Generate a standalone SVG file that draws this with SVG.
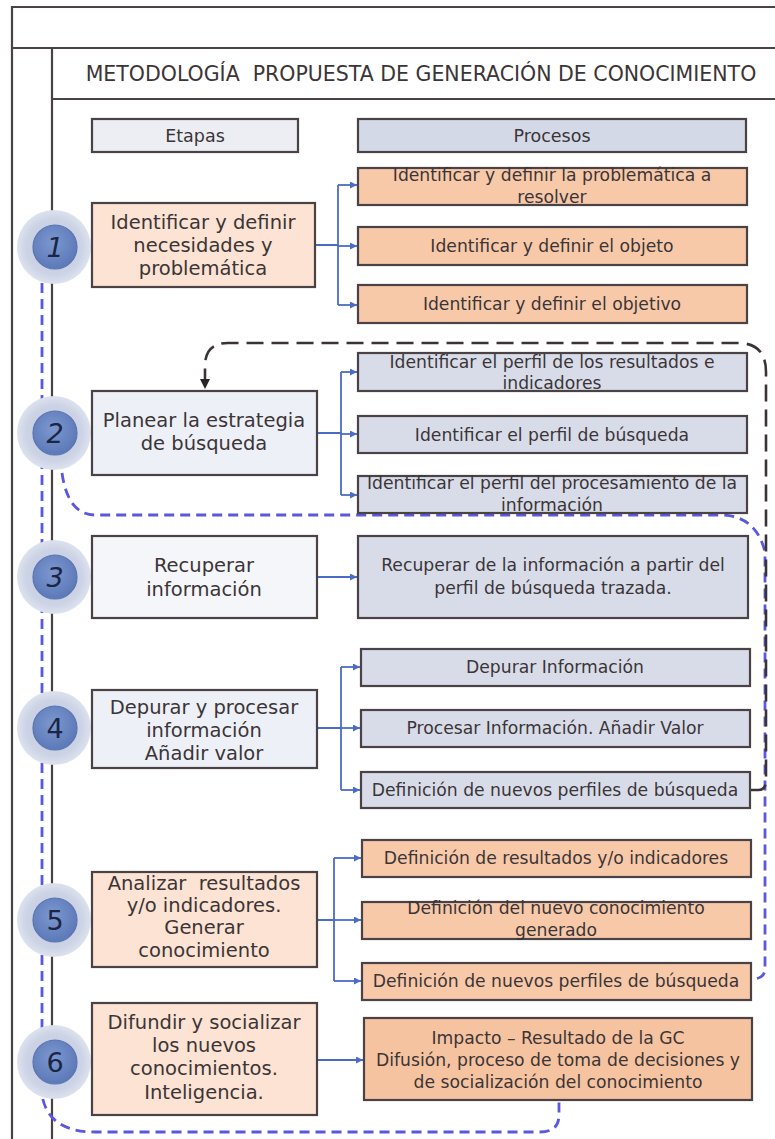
<svg xmlns="http://www.w3.org/2000/svg" width="775" height="1139" viewBox="0 0 775 1139">
<defs>
<style>
.frame{stroke:#4a4245;stroke-width:2.2;fill:none}
.box{stroke:#4a4245;stroke-width:2.2}
.peach{fill:#fce3d3}
.orange{fill:#f8c9a9}
.orange6{fill:#f6c3a0}
.light{fill:#eef0f7}
.white{fill:#f5f6fa}
.grey{fill:#d8dce9}
.hdrA{fill:#eceef4}
.hdrB{fill:#d4d9e7}
.t{font-family:"DejaVu Sans","Liberation Sans",sans-serif;fill:#3b3537;text-anchor:middle}
.et{font-size:19.5px}
.pr{font-size:17.2px}
.num{font-family:"DejaVu Sans","Liberation Sans",sans-serif;font-size:27px;fill:#1b2544;text-anchor:middle}
.conn{stroke:#4a6cc8;stroke-width:1.8;fill:none}
.bdash{stroke:#5a57e0;stroke-width:2.8;fill:none;stroke-dasharray:10 6}
.kdash{stroke:#3a3336;stroke-width:2.6;fill:none;stroke-dasharray:17 8}
.halo{fill:url(#haloG)}
.core{fill:url(#coreG);stroke:#5a74b0;stroke-width:1.2}
</style>
<radialGradient id="haloG" cx="0.5" cy="0.5" r="0.5">
<stop offset="0" stop-color="#bfc8df"/>
<stop offset="0.75" stop-color="#ccd3e5"/>
<stop offset="1" stop-color="#dde2ee"/>
</radialGradient>
<radialGradient id="coreG" cx="0.45" cy="0.4" r="0.6">
<stop offset="0" stop-color="#7d98d0"/>
<stop offset="1" stop-color="#5c79b8"/>
</radialGradient>
<marker id="arr" markerUnits="userSpaceOnUse" markerWidth="8" markerHeight="8" refX="7" refY="3.5" orient="auto">
<path d="M0,0 L7,3.5 L0,7 z" fill="#4a6cc8"/>
</marker>
<marker id="arrK" markerUnits="userSpaceOnUse" markerWidth="12" markerHeight="12" refX="10" refY="5" orient="auto">
<path d="M0,0 L10,5 L0,10 z" fill="#2a2426"/>
</marker>
</defs>
<rect width="775" height="1139" fill="#ffffff"/>
<g id="frame">
<path class="frame" d="M775 7 H12 V1139"/>
<path class="frame" d="M12 48 H775"/>
<path class="frame" d="M52 48 V1139"/>
<path class="frame" d="M52 99 H775"/>
<text class="t" x="421" y="81" font-size="20.5" fill="#4a4446" xml:space="preserve">METODOLOGÍA  PROPUESTA DE GENERACIÓN DE CONOCIMIENTO</text>
</g>
<g id="connectors">
<path class="bdash" d="M42 283 V1095 Q48 1132 95 1132 H540 Q559 1132 559 1115 V1100"/>
<path class="bdash" d="M62 473 Q68 515 95 515 H720 Q756 515 765 552 V968 Q765 979 752 979"/>
<path class="kdash" d="M751 790 H758 Q766 790 766 780 V372 Q766 343 738 343 H228 Q205 343 205 366 V389" marker-end="url(#arrK)"/>
<path class="conn" d="M315 245 H338 M338 185 V305"/>
<path class="conn" d="M338 185 H357" marker-end="url(#arr)"/>
<path class="conn" d="M338 246 H357" marker-end="url(#arr)"/>
<path class="conn" d="M338 305 H357" marker-end="url(#arr)"/>
<path class="conn" d="M317 433 H341 M341 372 V495"/>
<path class="conn" d="M341 372 H357" marker-end="url(#arr)"/>
<path class="conn" d="M341 434 H357" marker-end="url(#arr)"/>
<path class="conn" d="M341 495 H357" marker-end="url(#arr)"/>
<path class="conn" d="M317 577 H357" marker-end="url(#arr)"/>
<path class="conn" d="M317 728 H341 M341 667 V790"/>
<path class="conn" d="M341 667 H360" marker-end="url(#arr)"/>
<path class="conn" d="M341 728 H360" marker-end="url(#arr)"/>
<path class="conn" d="M341 790 H360" marker-end="url(#arr)"/>
<path class="conn" d="M317 920 H334 M334 858 V981"/>
<path class="conn" d="M334 858 H361" marker-end="url(#arr)"/>
<path class="conn" d="M334 920 H361" marker-end="url(#arr)"/>
<path class="conn" d="M334 981 H361" marker-end="url(#arr)"/>
<path class="conn" d="M317 1060 H363" marker-end="url(#arr)"/>
</g>
<g id="header-etapas">
<rect class="box hdrA" x="92" y="119" width="206" height="33"/>
<text class="t" x="195" y="142" font-size="17.5">Etapas</text>
</g>
<g id="header-procesos">
<rect class="box hdrB" x="358" y="119" width="388" height="33"/>
<text class="t" x="552" y="142" font-size="17.5">Procesos</text>
</g>
<g id="circle-1"><circle class="halo" cx="54" cy="247" r="37"/><circle class="core" cx="55" cy="247" r="22"/><text class="num" x="55" y="257" font-style="italic">1</text></g>
<g id="circle-2"><circle class="halo" cx="54" cy="433" r="37"/><circle class="core" cx="55" cy="433" r="22"/><text class="num" x="55" y="443" font-style="italic">2</text></g>
<g id="circle-3"><circle class="halo" cx="54" cy="577" r="37"/><circle class="core" cx="55" cy="577" r="22"/><text class="num" x="55" y="587" font-style="italic">3</text></g>
<g id="circle-4"><circle class="halo" cx="54" cy="728" r="37"/><circle class="core" cx="55" cy="728" r="22"/><text class="num" x="55" y="738">4</text></g>
<g id="circle-5"><circle class="halo" cx="54" cy="920" r="37"/><circle class="core" cx="55" cy="920" r="22"/><text class="num" x="55" y="930">5</text></g>
<g id="circle-6"><circle class="halo" cx="54" cy="1062" r="37"/><circle class="core" cx="55" cy="1062" r="22"/><text class="num" x="55" y="1072">6</text></g>
<g id="stage-1">
<rect class="box peach" x="92" y="203" width="223" height="84"/>
<text class="t et" x="203" y="229">Identificar y definir</text>
<text class="t et" x="203" y="252">necesidades y</text>
<text class="t et" x="203" y="275">problemática</text>
</g>
<g id="proc-1a">
<rect class="box orange" x="358" y="168" width="389" height="37"/>
<text class="t pr" x="552" y="181">Identificar y definir la problemática a</text>
<text class="t pr" x="552" y="203">resolver</text>
</g>
<g id="proc-1b">
<rect class="box orange" x="358" y="227" width="389" height="38"/>
<text class="t pr" x="552" y="252">Identificar y definir el objeto</text>
</g>
<g id="proc-1c">
<rect class="box orange" x="358" y="285" width="389" height="38"/>
<text class="t pr" x="552" y="310">Identificar y definir el objetivo</text>
</g>
<g id="stage-2">
<rect class="box light" x="92" y="391" width="225" height="84"/>
<text class="t et" x="204" y="427">Planear la estrategia</text>
<text class="t et" x="204" y="450">de búsqueda</text>
</g>
<g id="proc-2a">
<rect class="box grey" x="358" y="353" width="389" height="38"/>
<text class="t pr" x="552" y="368">Identificar el perfil de los resultados e</text>
<text class="t pr" x="552" y="389">indicadores</text>
</g>
<g id="proc-2b">
<rect class="box grey" x="358" y="416" width="389" height="37"/>
<text class="t pr" x="552" y="441">Identificar el perfil de búsqueda</text>
</g>
<g id="proc-2c">
<rect class="box grey" x="358" y="476" width="389" height="37"/>
<text class="t pr" x="552" y="489">Identificar el perfil del procesamiento de la</text>
<text class="t pr" x="552" y="511">información</text>
</g>
<g id="stage-3">
<rect class="box white" x="92" y="536" width="225" height="82"/>
<text class="t et" x="204" y="572">Recuperar</text>
<text class="t et" x="204" y="596">información</text>
</g>
<g id="proc-3">
<rect class="box grey" x="358" y="536" width="390" height="82"/>
<text class="t pr" x="553" y="571">Recuperar de la información a partir del</text>
<text class="t pr" x="553" y="594">perfil de búsqueda trazada.</text>
</g>
<g id="stage-4">
<rect class="box light" x="92" y="690" width="225" height="78"/>
<text class="t et" x="204" y="714">Depurar y procesar</text>
<text class="t et" x="204" y="737">información</text>
<text class="t et" x="204" y="760">Añadir valor</text>
</g>
<g id="proc-4a">
<rect class="box grey" x="361" y="649" width="389" height="37"/>
<text class="t pr" x="555" y="673">Depurar Información</text>
</g>
<g id="proc-4b">
<rect class="box grey" x="361" y="710" width="389" height="37"/>
<text class="t pr" x="555" y="734">Procesar Información. Añadir Valor</text>
</g>
<g id="proc-4c">
<rect class="box grey" x="361" y="772" width="389" height="36"/>
<text class="t pr" x="555" y="796">Definición de nuevos perfiles de búsqueda</text>
</g>
<g id="stage-5">
<rect class="box peach" x="92" y="872" width="225" height="95"/>
<text class="t et" x="204" y="890" xml:space="preserve">Analizar  resultados</text>
<text class="t et" x="204" y="912">y/o indicadores.</text>
<text class="t et" x="204" y="934">Generar</text>
<text class="t et" x="204" y="957">conocimiento</text>
</g>
<g id="proc-5a">
<rect class="box orange" x="362" y="840" width="389" height="37"/>
<text class="t pr" x="556" y="864">Definición de resultados y/o indicadores</text>
</g>
<g id="proc-5b">
<rect class="box orange" x="362" y="902" width="389" height="37"/>
<text class="t pr" x="556" y="914">Definición del nuevo conocimiento</text>
<text class="t pr" x="556" y="936">generado</text>
</g>
<g id="proc-5c">
<rect class="box orange" x="362" y="963" width="389" height="37"/>
<text class="t pr" x="556" y="987">Definición de nuevos perfiles de búsqueda</text>
</g>
<g id="stage-6">
<rect class="box peach" x="92" y="1003" width="225" height="112"/>
<text class="t et" x="204" y="1029">Difundir y socializar</text>
<text class="t et" x="204" y="1052">los nuevos</text>
<text class="t et" x="204" y="1075">conocimientos.</text>
<text class="t et" x="204" y="1099">Inteligencia.</text>
</g>
<g id="proc-6">
<rect class="box orange6" x="364" y="1018" width="388" height="82"/>
<text class="t pr" x="558" y="1044">Impacto – Resultado de la GC</text>
<text class="t pr" x="558" y="1066">Difusión, proceso de toma de decisiones y</text>
<text class="t pr" x="558" y="1088">de socialización del conocimiento</text>
</g>
</svg>
